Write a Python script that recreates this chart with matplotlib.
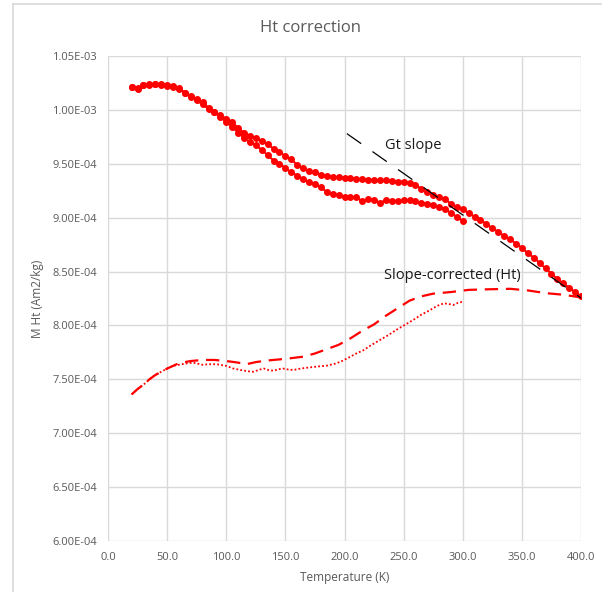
import matplotlib
matplotlib.use("Agg")
import matplotlib.pyplot as plt
from matplotlib.lines import Line2D
from matplotlib.ticker import MultipleLocator, FuncFormatter

plt.rcParams['font.family'] = ['Open Sans', 'DejaVu Sans']

# measured loop (M in 1e-4 Am2/kg)
t_up = list(range(20, 401, 5))
m_up = [10.21, 10.20, 10.23, 10.24, 10.24, 10.24, 10.23, 10.22, 10.20, 10.16,
        10.13, 10.10, 10.07, 10.02, 9.98, 9.95, 9.92, 9.89, 9.83, 9.79,
        9.76, 9.74, 9.71, 9.68, 9.64, 9.61, 9.57, 9.54, 9.49, 9.46,
        9.43, 9.42, 9.40, 9.39, 9.38, 9.375, 9.37, 9.365, 9.36, 9.355,
        9.35, 9.35, 9.345, 9.345, 9.34, 9.335, 9.335, 9.32, 9.30, 9.27,
        9.24, 9.21, 9.19, 9.17, 9.13, 9.10, 9.08, 9.04, 9.01, 8.98,
        8.94, 8.90, 8.87, 8.83, 8.80, 8.76, 8.72, 8.67, 8.63, 8.58,
        8.53, 8.48, 8.43, 8.39, 8.35, 8.31, 8.27]

t_down = list(range(20, 301, 5))
m_down = [10.21, 10.19, 10.23, 10.23, 10.24, 10.23, 10.22, 10.21, 10.19, 10.16,
          10.12, 10.09, 10.05, 10.01, 9.98, 9.93, 9.89, 9.84, 9.79, 9.74,
          9.70, 9.67, 9.63, 9.58, 9.53, 9.50, 9.46, 9.42, 9.39, 9.36,
          9.33, 9.31, 9.28, 9.24, 9.22, 9.21, 9.195, 9.19, 9.19, 9.15,
          9.17, 9.16, 9.14, 9.16, 9.15, 9.15, 9.16, 9.16, 9.15, 9.14,
          9.13, 9.12, 9.10, 9.08, 9.04, 9.01, 8.97]

# Gt slope
t_slope = [202, 400]
m_slope = [9.78, 8.255]

# slope-corrected (Ht)
t_ht = [20, 25, 30, 35, 40, 45, 50, 60, 70, 80, 90, 100, 110, 117, 125, 135,
        150, 165, 175, 185, 195, 205, 215, 225, 235, 245, 255, 265, 275, 290,
        305, 320, 340, 355, 370, 385, 400]
m_ht = [7.36, 7.41, 7.45, 7.50, 7.54, 7.57, 7.60, 7.65, 7.67, 7.68, 7.68, 7.67,
        7.655, 7.64, 7.66, 7.675, 7.69, 7.71, 7.74, 7.78, 7.82, 7.88, 7.95, 8.01,
        8.09, 8.16, 8.23, 8.27, 8.295, 8.31, 8.33, 8.335, 8.34, 8.325, 8.30,
        8.285, 8.26]

t_ht2 = [20, 25, 30, 35, 40, 45, 50, 55, 60, 65, 72, 80, 85, 92, 100, 106, 112,
         118, 123, 128, 132, 136, 140, 145, 148, 153, 157, 163, 170, 178, 185,
         192, 197, 205, 210, 216, 223, 230, 237, 244, 251, 258, 265, 272, 278,
         284, 288, 292, 296, 300]
m_ht2 = [7.36, 7.41, 7.45, 7.50, 7.54, 7.57, 7.60, 7.625, 7.635, 7.645, 7.655,
         7.635, 7.64, 7.64, 7.625, 7.60, 7.587, 7.575, 7.57, 7.59, 7.60, 7.585,
         7.58, 7.595, 7.60, 7.59, 7.587, 7.60, 7.61, 7.62, 7.627, 7.645, 7.665,
         7.71, 7.74, 7.77, 7.82, 7.865, 7.91, 7.96, 8.005, 8.05, 8.10, 8.14,
         8.18, 8.205, 8.20, 8.19, 8.21, 8.22]

s = 1e-4
red = '#ff0000'
grey = '#595959'
gridc = '#d9d9d9'

fig = plt.figure(figsize=(6.02, 5.92), dpi=100)
ax = fig.add_axes([108 / 602, 1 - 541 / 592, 473 / 602, 485 / 592])

ax.plot(t_up, [v * s for v in m_up], color=red, lw=1.5, marker='o', ms=4, zorder=3)
ax.plot(t_down, [v * s for v in m_down], color=red, lw=1.5, marker='o', ms=4, zorder=3)
ax.plot(t_slope, [v * s for v in m_slope], color='black', lw=0.9, dashes=(14, 11), zorder=4)
ax.plot(t_ht, [v * s for v in m_ht], color=red, lw=1.6, dashes=(6, 3.5), zorder=3)
ax.plot(t_ht2, [v * s for v in m_ht2], color=red, lw=1.3, dashes=(1, 1.2), zorder=3)

ax.set_xlim(0, 400)
ax.set_ylim(6e-4, 1.05e-3)
ax.xaxis.set_major_locator(MultipleLocator(50))
ax.yaxis.set_major_locator(MultipleLocator(5e-5))
ax.xaxis.set_major_formatter(FuncFormatter(lambda v, p: '%.1f' % v))
ax.yaxis.set_major_formatter(FuncFormatter(lambda v, p: '%.2E' % v))
ax.grid(True, color=gridc, lw=1)
ax.set_axisbelow(True)
for sp in ax.spines.values():
    sp.set_visible(False)
ax.tick_params(length=0, labelsize=8, colors=grey, pad=8)

fig.text(310 / 602, 1 - 28 / 592, 'Ht correction', fontsize=12, color=grey,
         ha='center', va='center')
ax.set_xlabel('Temperature (K)', fontsize=8.5, color=grey, labelpad=6)
ax.set_ylabel('M Ht (Am2/kg)', fontsize=8.5, color=grey, labelpad=6)

ax.text(234, 9.674e-4, 'Gt slope', fontsize=10.5, color='#1a1a1a', va='center')
ax.text(233, 8.459e-4, 'Slope-corrected (Ht)', fontsize=10.5, color='#1a1a1a', va='center')

# chart frame
fig.add_artist(Line2D([13 / 602, 13 / 602], [0, 1 - 4 / 592], color=gridc, lw=1.2))
fig.add_artist(Line2D([13 / 602, 1], [1 - 4 / 592, 1 - 4 / 592], color=gridc, lw=1.2))

fig.savefig('out.png', dpi=100)
